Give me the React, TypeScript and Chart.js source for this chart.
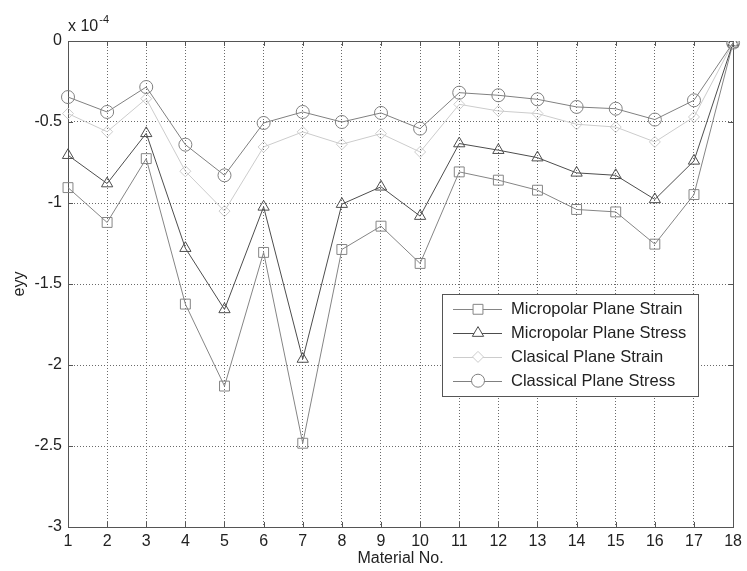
import React, { useEffect, useRef } from 'react';
import { Chart, registerables } from 'chart.js';
import { drawPoint } from 'chart.js/helpers';

Chart.register(...registerables);

const categories = ['1', '2', '3', '4', '5', '6', '7', '8', '9', '10', '11', '12', '13', '14', '15', '16', '17', '18'];
const micropolarPlaneStrain = [-0.905, -1.12, -0.726, -1.624, -2.13, -1.305, -2.483, -1.287, -1.143, -1.373, -0.808, -0.859, -0.921, -1.04, -1.055, -1.254, -0.948, -0.01];
const micropolarPlaneStress = [-0.705, -0.88, -0.57, -1.279, -1.657, -1.024, -1.963, -1.007, -0.9, -1.081, -0.633, -0.674, -0.72, -0.814, -0.829, -0.978, -0.74, -0.01];
const clasicalPlaneStrain = [-0.448, -0.56, -0.356, -0.804, -1.05, -0.654, -0.561, -0.637, -0.572, -0.685, -0.391, -0.432, -0.448, -0.514, -0.531, -0.623, -0.469, -0.01];
const classicalPlaneStress = [-0.346, -0.438, -0.284, -0.64, -0.829, -0.506, -0.438, -0.5, -0.444, -0.541, -0.319, -0.335, -0.36, -0.407, -0.418, -0.485, -0.366, -0.01];
const seriesNames = ['Micropolar Plane Strain', 'Micropolar Plane Stress', 'Clasical Plane Strain', 'Classical Plane Stress'];
const seriesColors = ['#858585', '#4d4d4d', '#cccccc', '#808080'];
const seriesMarkers = ['rect', 'triangle', 'rectRot', 'circle'];
const seriesRadii = [7, 6.5, 5.5, 6.5];
const yMin = -3;
const yMax = 0;
const yStep = 0.5;
const scaleExponent = '-4';

const FONT = '"Liberation Sans", Arial, Helvetica, sans-serif';

const framePlugin = {
  id: 'matlabFrame',
  beforeDatasetsDraw(chart: any) {
    const { ctx, chartArea: a, scales } = chart;
    ctx.save();
    ctx.strokeStyle = '#555';
    ctx.lineWidth = 1;
    ctx.setLineDash([]);
    ctx.strokeRect(Math.round(a.left) + 0.5, Math.round(a.top) + 0.5, Math.round(a.right - a.left), Math.round(a.bottom - a.top));
    const tl = 5;
    ctx.beginPath();
    scales.x.ticks.forEach((_t: any, i: number) => {
      const x = Math.round(scales.x.getPixelForTick(i)) + 0.5;
      ctx.moveTo(x, a.bottom); ctx.lineTo(x, a.bottom - tl);
      ctx.moveTo(x, a.top); ctx.lineTo(x, a.top + tl);
    });
    scales.y.ticks.forEach((_t: any, i: number) => {
      const y = Math.round(scales.y.getPixelForTick(i)) + 0.5;
      ctx.moveTo(a.left, y); ctx.lineTo(a.left + tl, y);
      ctx.moveTo(a.right, y); ctx.lineTo(a.right - tl, y);
    });
    ctx.stroke();
    ctx.restore();
  },
  afterDraw(chart: any) {
    const { ctx, chartArea: a } = chart;
    ctx.save();
    // exponent label
    ctx.fillStyle = '#222';
    ctx.textBaseline = 'alphabetic';
    ctx.textAlign = 'left';
    ctx.font = `16px ${FONT}`;
    ctx.fillText('x 10', a.left, 31);
    const w = ctx.measureText('x 10').width;
    ctx.font = `11px ${FONT}`;
    ctx.fillText(scaleExponent, a.left + w + 1, 23);

    // legend
    const bx = 442, by = 294, bw = 256, bh = 102;
    ctx.fillStyle = '#fff';
    ctx.fillRect(bx, by, bw, bh);
    ctx.strokeStyle = '#555';
    ctx.lineWidth = 1;
    ctx.strokeRect(bx + 0.5, by + 0.5, bw, bh);
    ctx.font = `16.5px ${FONT}`;
    ctx.textBaseline = 'middle';
    seriesNames.forEach((name, i) => {
      const y = 309.3 + i * 23.8;
      ctx.strokeStyle = seriesColors[i];
      ctx.lineWidth = 1;
      ctx.beginPath();
      ctx.moveTo(453, Math.round(y) + 0.5);
      ctx.lineTo(502, Math.round(y) + 0.5);
      ctx.stroke();
      ctx.fillStyle = '#fff';
      drawPoint(ctx, { pointStyle: seriesMarkers[i], radius: seriesRadii[i], rotation: 0, borderWidth: 1 } as any, 478, y);
      ctx.fillStyle = '#222';
      ctx.fillText(name, 511, y + 0.5);
    });
    ctx.restore();
  },
};

export default function App() {
  const ref = useRef<HTMLCanvasElement>(null);
  useEffect(() => {
    document.body.style.margin = '0';
    const seriesData = [micropolarPlaneStrain, micropolarPlaneStress, clasicalPlaneStrain, classicalPlaneStress];
    const chart = new Chart(ref.current!, {
      type: 'line',
      data: {
        labels: categories,
        datasets: seriesData.map((d, i) => ({
          label: seriesNames[i],
          data: d,
          borderColor: seriesColors[i],
          borderWidth: 1,
          pointStyle: seriesMarkers[i] as any,
          pointRadius: seriesRadii[i],
          pointBorderColor: seriesColors[i],
          pointBackgroundColor: 'rgba(0,0,0,0)',
          pointBorderWidth: 1,
          fill: false,
          tension: 0,
          order: 3 - i,
        })),
      },
      options: {
        animation: false,
        responsive: false,
        maintainAspectRatio: false,
        layout: { padding: { left: 0, right: 10, top: 41, bottom: 0 } },
        plugins: { legend: { display: false }, tooltip: { enabled: false } },
        scales: {
          x: {
            type: 'category',
            offset: false,
            grid: { color: '#6a6a6a', drawTicks: false, tickBorderDash: [1, 2] },
            border: { display: false, dash: [1, 2] },
            ticks: { color: '#222', font: { family: FONT, size: 16 }, padding: 5, maxRotation: 0, autoSkip: false },
            title: { display: true, text: 'Material No.', color: '#222', font: { family: FONT, size: 16 }, padding: { top: 0, bottom: 3 } },
            afterFit: (s: any) => { s.height = 44; },
          },
          y: {
            min: yMin,
            max: yMax,
            grid: { color: '#6a6a6a', drawTicks: false },
            border: { display: false, dash: [1, 2] },
            ticks: {
              stepSize: yStep,
              color: '#222',
              font: { family: FONT, size: 16 },
              padding: 6,
              callback: (v: any) => String(Number(Number(v).toFixed(1))),
            },
            title: { display: true, text: 'eyy', color: '#222', font: { family: FONT, size: 16 }, padding: { top: 10, bottom: 0 } },
            afterFit: (s: any) => { s.width = 68; },
          },
        },
      },
      plugins: [framePlugin],
    });
    return () => chart.destroy();
  }, []);
  return (
    <div style={{ width: 747, height: 571, background: '#fff' }}>
      <canvas ref={ref} width={747} height={571} style={{ display: 'block' }} />
    </div>
  );
}
